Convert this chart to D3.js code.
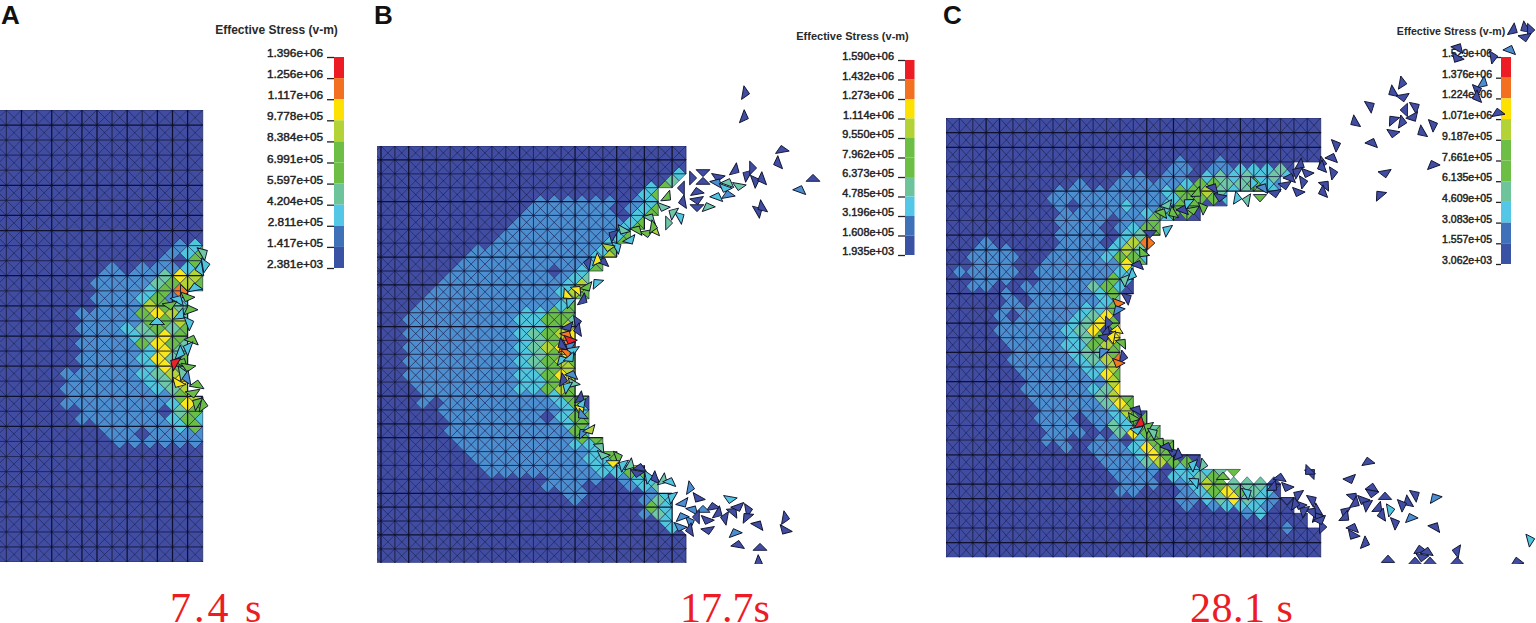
<!DOCTYPE html>
<html><head><meta charset="utf-8">
<script src="https://cdn.jsdelivr.net/npm/d3@7"></script>
<style>html,body{margin:0;background:#fff}svg{display:block}</style>
</head><body><div id="c"></div>
<script>
// ---- legend values ----
const legendA=["1.396e+06","1.256e+06","1.117e+06","9.778e+05","8.384e+05","6.991e+05","5.597e+05","4.204e+05","2.811e+05","1.417e+05","2.381e+03"];
const legendB=["1.590e+06","1.432e+06","1.273e+06","1.114e+06","9.550e+05","7.962e+05","6.373e+05","4.785e+05","3.196e+05","1.608e+05","1.935e+03"];
const legendC=["1.529e+06","1.376e+06","1.224e+06","1.071e+06","9.187e+05","7.661e+05","6.135e+05","4.609e+05","3.083e+05","1.557e+05","3.062e+03"];
const legendTitle="Effective Stress (v-m)";
const captions=["7.4 s","17.7s","28.1 s"];
const panelLetters=["A","B","C"];
const bandColors=["#ed1c24","#f37021","#fde102","#b2d235","#6cbe45","#6cbe45","#6dc39a","#54c7e6","#3e71b8","#3a52a4"];
const levelColors=["#414da3","#4b8fd0","#50c6dd","#6fc7a5","#6abd45","#6abd45","#b4d334","#f9e71e","#f4791f","#ec2027"];

// ---- stress band per mesh diamond: alternating rows of horizontal / vertical element edges.
// "n|digits" = n leading zero entries, then band index per edge; the rest of the row is band 0; "." = element gone.
const stressA=["","","","","","","","","","","","","","","","","","",
"12|12","12|124","11|104","8|1011122","7|1111376","7|111134 64","7|111248 2","7|111241 2",
"7|111 6434","6|1111476 32","6|11114462","6|11123435","6|11123742","6|11114743",
"6|11112732","6|11112734","6|11112749","5|1111123 64","5|11111 2374","5|11111123 64",
"5|111111146","5|111111 1274","6|11111034","6|111111242","7|1111124","8|1101111","8|111111",
"","","","","","","","","","","","","","","",""];
const frontA=[14,14,14,14,14,14,14,14,14,14,14,14,13,13,13,13,13,13,13,14,14,14,14,14,14,14,14,14,14,14];

const stressB=["","","","","22|2","22|3.","20|24.","20|242",
"12|1111110124","12|1111110124","11|1111111024","11|11111111244","10|111111112 45","10|111111112 44",
"9|11111111246","8|111111111244","7|11111111126","7|11111111124","6|11111110124","6|11111111123",
"5|111111111264","5|111111111264","4|111111111134","4|111111111124","3|111111112244","3|11111111225 43",
"3|1111111122 56","3|1111111123467","3|111111112358","3|1111111123678","3|111111112347","3|11111111235 64",
"3|111111112356","3|11111111224 76","3|111111112247","4|11111112246 4","4|111111111244","4|10111111112 4",
"5|11111111122","6|11111110244","6|11111111244","6|111111111426","6|111111111443","7|1111111122 44",
"7|1111111112443","8|1111111122443","8|1111111122264","9|1111111122443","13|1111012 23","13|1110001234",
"14|1100001242","15|100001 32","20|422","20|132","21|2.","22|2.","","","","",""];
const frontB=[23,23,23,21,21,20,19,18,17,16,16,15,15,15,15,15,15,15,16,16,16,17,18,20,21,22,22,23,23,23];

const stressC=["","","","","","","17|1001","17|110112223",
"13|11011023232 32","10|100111112 443342 1","8|111111112446 3 2 3 5 2","8|1111111112444 2",
"8|10111211244","9|1111112454","8|111101142","9|111012 54","8|11110234","3|1000001110268",
"2|1110001111 2634","2|1111001111 2442","2|111001111117 4","1|11111 01 11111 2242",
"2|1110011111422","2|110011111 342","4|10111112 40","5|1011111 23","4|1111112 24",
"4|1011112 37","4|1111123 74","4|11111237 07","4|111112347","5|11112 2464",
"5|111123340","5|11111 2368","5|1111122 64","6|11111274","6|11111164","6|111112372","6|11111364","7|11111374",
"7|11111260","7|11101 12444","7|11101 3243","8|11100 37 44","7|1100110244","9|10111274 4",
"11|111274","12|111364 4","12|1111022234......","13|1110223 4.......","13|11101264333","13|11000124743 2",
"17|1123732 1","18|1012221","22|12","","25|1","","","","",""];
const frontC=[28,28,28,26,25,21,19,16,15,15,14,14,13,13,13,13,13,13,13,14,15,16,17,19,25,25,26,27,28,28];

// mesh lines that read heavier in the picture
const heavyColsA=[2,4,6,7,9,11,12,13], heavyRowsA=[1,5,7,8,11,13,15,17,19,21];
const heavyColsB=[1,3,11,15,18,20,22], heavyRowsB=[1,4,8,10,13,18,20,21,25,26,28];
const heavyColsC=[3,4,10,15,17,22,24], heavyRowsC=[1,2,5,8,9,11,12,14,16,18,19,23,25,26,29];

// ---- detached elements: [along, down (from mesh corner), orientation deg, band] ----
const fragsA=[[203,143,60,3],[205,155,80,2],[200,159,260,2],[195,178,350,2],[183,182,90,8],[187,187,200,4],[178,190,30,2],[170,195,170,4],[190,200,340,4],[180,205,130,2],[189,213,70,2],[157,212,0,2],[192,230,20,4],[188,238,290,2],[180,243,110,2],[182,253,30,4],[175,253,300,9],[188,257,190,4],[182,263,80,3],[187,268,260,1],[197,275,10,4],[178,273,210,7],[193,283,170,4],[203,295,100,4],[197,293,300,4]];
const fragsB=[[368,-53,100,0],[367,-29,110,0],[405,4,350,0],[401,17,250,0],[378,35,70,0],[385,33,250,0],[436,33,0,0],[423,44,20,1],[381,65,60,0],[385,61,240,0],[315,32,90,0],[326,26,180,0],[326,36,0,0],[341,31,190,0],[340,37,30,1],[358,24,120,0],[370,29,300,0],[375,22,90,0],[351,37,20,3],[362,40,190,3],[305,42,270,0],[320,46,350,0],[320,54,170,0],[306,56,260,0],[320,61,180,0],[331,61,340,3],[340,51,20,2],[351,49,350,1],[348,42,200,2],[290,51,130,4],[286,61,200,3],[303,71,60,2],[296,67,300,3],[291,77,90,3],[278,84,250,6],[273,72,30,3],[270,87,170,4],[276,81,100,4],[260,84,30,4],[246,84,210,3],[236,89,300,0],[253,94,150,2],[240,101,60,2],[231,101,190,6],[226,116,20,0],[220,114,110,7],[211,117,280,0],[220,137,320,2],[210,141,150,4],[200,144,40,7],[190,149,230,7],[206,154,120,0],[193,156,310,2],[200,176,80,0],[201,184,260,0],[191,181,150,0],[190,189,30,8],[193,194,200,9],[186,201,110,8],[193,201,300,1],[190,207,50,8],[196,204,170,2],[185,199,240,0],[185,214,330,2],[193,212,140,2],[186,234,100,0],[195,229,20,1],[196,237,210,3],[190,241,300,2],[203,252,120,0],[205,259,280,2],[203,264,60,7],[205,269,230,1],[206,287,320,1],[213,284,150,6],[223,301,40,3],[226,309,200,3],[241,311,70,4],[236,317,180,7],[246,319,300,2],[253,319,120,3],[263,322,10,0],[260,327,190,0],[271,331,80,2],[278,332,250,0],[286,334,120,3],[293,336,20,2],[295,351,300,2],[306,357,150,1],[313,342,100,1],[321,352,210,0],[316,364,30,1],[336,361,350,0],[341,367,120,0],[326,364,0,1],[320,371,270,0],[330,374,200,0],[313,376,70,1],[305,371,340,1],[331,384,170,0],[313,384,260,0],[303,381,200,1],[348,372,280,0],[353,353,190,2],[356,366,40,0],[361,361,160,0],[371,364,80,0],[370,371,320,0],[381,379,30,0],[408,372,100,0],[408,384,210,0],[358,387,340,1],[361,399,10,0],[383,402,0,0],[381,416,110,0]];
const fragsC=[[267,70,30,0],[274,79,190,0],[291,80,100,2],[301,82,280,3],[251,75,130,4],[242,85,310,2],[237,92,20,0],[247,92,170,4],[257,90,70,4],[227,95,240,4],[216,95,30,4],[221,87,150,3],[221,112,300,2],[204,115,180,0],[204,125,90,8],[197,135,220,4],[192,147,20,0],[186,157,110,2],[179,162,290,3],[181,180,60,0],[172,185,200,8],[172,192,330,1],[162,205,90,0],[161,215,260,0],[171,212,10,7],[159,219,170,0],[166,219,280,7],[176,225,40,4],[157,234,320,1],[177,239,100,0],[172,245,200,8],[191,292,30,0],[187,300,210,4],[194,305,120,9],[202,309,300,4],[207,315,60,3],[191,312,170,2],[214,324,40,4],[227,334,190,0],[221,329,20,0],[232,337,110,0],[247,347,290,2],[257,347,100,3],[277,359,0,4],[249,364,50,2],[301,375,60,2],[334,360,10,0],[341,369,200,0],[327,369,130,0],[352,377,300,0],[341,382,180,0],[366,382,60,0],[371,392,240,0],[376,409,90,0],[371,399,330,0],[354,387,200,0],[366,394,40,0],[358,393,300,0],[349,386,100,0],[374,402,160,0],[365,355,45,0],[363,353,225,0],[422,344,350,0],[404,361,160,0],[426,370,10,0],[426,375,190,0],[407,379,40,0],[417,382,200,0],[409,385,120,0],[439,379,0,0],[469,377,60,0],[462,384,240,0],[456,387,70,0],[489,380,330,1],[421,387,300,0],[432,390,130,0],[444,392,80,2],[436,397,260,0],[449,405,70,0],[465,400,340,1],[489,409,30,0],[399,394,300,0],[399,399,130,0],[407,410,20,0],[407,417,210,0],[419,425,110,0],[442,442,0,0],[474,432,350,0],[481,434,10,0],[476,439,190,0],[469,444,0,0],[484,444,0,0],[511,433,280,0],[511,444,0,0],[584,422,75,2],[571,444,350,0],[567,-88,120,0],[579,-90,240,0],[584,-88,90,0],[579,-81,170,0],[564,-68,20,1],[547,-61,80,0],[512,-70,30,0],[511,-60,210,0],[537,-35,120,1],[531,-28,70,0],[531,-21,250,0],[552,-5,350,0],[456,-35,100,0],[447,-26,240,0],[457,-21,170,0],[424,-12,60,0],[409,4,240,0],[469,-11,60,0],[459,-8,270,0],[467,-1,150,0],[447,2,320,0],[456,4,100,0],[447,15,190,0],[476,14,240,0],[487,7,70,0],[426,25,20,0],[390,27,70,0],[386,40,20,0],[376,45,100,0],[376,49,250,0],[387,55,80,0],[379,67,40,0],[377,74,250,0],[439,55,170,0],[434,77,320,0],[487,47,340,0],[354,47,120,0],[361,55,200,0],[351,54,300,0],[357,64,80,0],[344,60,20,0],[339,67,170,0],[352,74,200,0],[329,75,170,0],[314,79,180,4],[317,70,30,1],[307,65,90,2]];

// ---- layout ----
const W=1536,H=623;
const panels=[
 {stress:stressA,front:frontA,frags:fragsA,legend:legendA,heavyC:heavyColsA,heavyR:heavyRowsA,cols:14,rows:30,x0:-8.7,x1:202.7,y0:110,y1:562,clipX:0,
  bar:[334,344,57,268],tick:7,font:11.8,tFont:12,tX:276.5,tY:34,lX:1,capX:170,capSp:3},
 {stress:stressB,front:frontB,frags:fragsB,legend:legendB,heavyC:heavyColsB,heavyR:heavyRowsB,cols:23,rows:30,x0:367.1,x1:686,y0:146,y1:562.7,clipX:377,
  bar:[905,914.5,60,255],tick:7,font:10.9,tFont:11,tX:852.5,tY:40,lX:374,capX:680,capSp:0},
 {stress:stressC,front:frontC,frags:fragsC,legend:legendC,heavyC:heavyColsC,heavyR:heavyRowsC,cols:28,rows:30,x0:946,x1:1320.7,y0:118,y1:557.3,clipX:946,
  bar:[1501,1511,57,264],tick:5,font:10.5,tFont:10.6,tX:1451,tY:35,lX:943,capX:1190,capSp:0.5}
];

const svg=d3.select("#c").append("svg").attr("width",W).attr("height",H).attr("viewBox",[0,0,W,H]);
const defs=svg.append("defs");
const sans="'Liberation Sans',Arial,sans-serif", serif="'Liberation Serif','Times New Roman',serif";
defs.append("clipPath").attr("id","fragClip").append("rect").attr("x",0).attr("y",0).attr("width",W).attr("height",564);

function band(row,i){
  if(!row) return 0;
  const [lead,digits]=row.replace(/ /g,"").split("|");
  const k=i-(+lead);
  if(k<0||k>=digits.length) return 0;
  const ch=digits[k];
  return ch==="."?-1:+ch;
}

panels.forEach((p,pi)=>{
  const x=d3.scaleLinear().domain([0,p.cols]).range([p.x0,p.x1]);
  const y=d3.scaleLinear().domain([0,p.rows]).range([p.y0,p.y1]);
  const color=d3.scaleOrdinal().domain(d3.range(levelColors.length)).range(levelColors);
  const tris=[];
  for(let r=0;r<p.rows;r++) for(let c=0;c<p.front[r];c++){
    const m=[c+.5,r+.5];
    const add=(row,i,a,b)=>{const lv=band(p.stress[row],i); if(lv>=0) tris.push({lv,a,b,m});};
    add(2*r,c,[c,r],[c+1,r]);
    add(2*r+2,c,[c,r+1],[c+1,r+1]);
    add(2*r+1,c,[c,r],[c,r+1]);
    add(2*r+1,c+1,[c+1,r],[c+1,r+1]);
  }
  const cid="mesh"+pi;
  defs.append("clipPath").attr("id",cid).append("rect").attr("x",p.clipX).attr("y",p.y0).attr("width",W).attr("height",p.y1-p.y0);
  const g=svg.append("g").attr("clip-path",`url(#${cid})`);
  const pt=q=>x(q[0])+","+y(q[1]);
  g.selectAll("polygon").data(tris).join("polygon")
    .attr("points",d=>[d.a,d.b,d.m].map(pt).join(" "))
    .attr("fill",d=>color(d.lv))
    .attr("stroke",d=>color(d.lv)).attr("stroke-width",.4);
  const diag=d3.path(), edge=d3.path(), heavy=d3.path();
  tris.forEach(t=>{
    diag.moveTo(x(t.a[0]),y(t.a[1]));diag.lineTo(x(t.m[0]),y(t.m[1]));
    diag.moveTo(x(t.b[0]),y(t.b[1]));diag.lineTo(x(t.m[0]),y(t.m[1]));
    const vertical=t.a[0]===t.b[0];
    const isHeavy=vertical?p.heavyC.includes(t.a[0]):p.heavyR.includes(t.a[1]);
    const q=isHeavy?heavy:edge;
    q.moveTo(x(t.a[0]),y(t.a[1]));q.lineTo(x(t.b[0]),y(t.b[1]));
  });
  g.append("path").attr("d",diag.toString()).attr("fill","none").attr("stroke","#161c50").attr("stroke-opacity",.65).attr("stroke-width",.65);
  g.append("path").attr("d",edge.toString()).attr("fill","none").attr("stroke","#14183c").attr("stroke-opacity",.7).attr("stroke-width",.75);
  g.append("path").attr("d",heavy.toString()).attr("fill","none").attr("stroke","#0c0e26").attr("stroke-opacity",.95).attr("stroke-width",1.25);

  // legend
  const ly=d3.scalePoint().domain(p.legend).range([p.bar[2],p.bar[3]]);
  const bands=d3.pairs(p.legend);
  svg.append("g").selectAll("rect").data(bands).join("rect")
    .attr("x",p.bar[0]).attr("width",p.bar[1]-p.bar[0])
    .attr("y",d=>ly(d[0])).attr("height",d=>ly(d[1])-ly(d[0]))
    .attr("fill",(d,i)=>bandColors[i]);
  const ax=svg.append("g").attr("transform",`translate(${p.bar[0]},0)`)
    .call(d3.axisLeft(ly).tickSize(p.tick).tickPadding(4));
  ax.select(".domain").remove();
  ax.selectAll("line").attr("stroke","#222").attr("stroke-width",1.3);
  ax.selectAll("text").attr("font-family",sans).attr("font-size",p.font).attr("fill","#222")
    .attr("stroke","#222").attr("stroke-width",.45).attr("dy","-0.5");
  svg.append("text").attr("x",p.tX).attr("y",p.tY).attr("text-anchor","middle")
    .attr("font-family",sans).attr("font-weight",700).attr("font-size",p.tFont).attr("fill","#2a2a2a").text(legendTitle);

  // panel letter and caption
  svg.append("text").attr("x",p.lX).attr("y",23.5).attr("font-family",sans).attr("font-weight",700)
    .attr("font-size",26).attr("fill","#111").text(panelLetters[pi]);
  svg.append("text").attr("x",p.capX).attr("y",621.7).attr("font-family",serif).attr("font-size",42)
    .attr("letter-spacing",p.capSp).attr("fill","#ed1c24").text(captions[pi]);

  // detached elements
  const fx=d3.scaleLinear().domain([0,p.x1-p.clipX]).range([p.clipX,p.x1]);
  const fy=d3.scaleLinear().domain([0,p.y1-p.y0]).range([p.y0,p.y1]);
  const b=(x(1)-x(0))/2, h=(y(1)-y(0))/2;
  const shape=`${-b},${h/3} ${b},${h/3} 0,${-2*h/3}`;
  svg.append("g").attr("clip-path","url(#fragClip)").selectAll("polygon").data(p.frags).join("polygon")
    .attr("points",shape)
    .attr("transform",d=>`translate(${fx(d[0])},${fy(d[1])}) rotate(${d[2]})`)
    .attr("fill",d=>color(d[3]))
    .attr("stroke","#101430").attr("stroke-width",.9).attr("stroke-linejoin","round");
});
</script></body></html>
